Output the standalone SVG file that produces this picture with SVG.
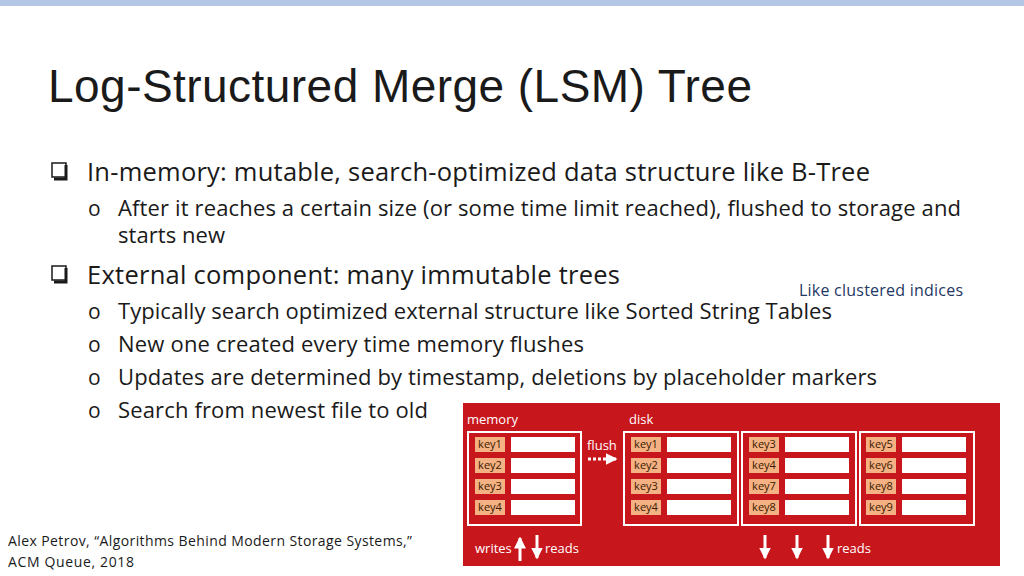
<svg xmlns="http://www.w3.org/2000/svg" width="1024" height="576" viewBox="0 0 1024 576">
<defs>
<style>
.t{font-family:"Liberation Sans",Arial,sans-serif;fill:#1a1a1a}
.b{font-family:"Open Sans","Noto Sans",sans-serif;fill:#1a1a1a}
.w{font-family:"Open Sans","Noto Sans",sans-serif;fill:#fff;font-size:13px}
.k{fill:#f4b183}
.kt{font-family:"Open Sans","Noto Sans",sans-serif;font-size:11px;fill:#3a1a00;text-anchor:middle}
.v{fill:#fff}
.box{fill:none;stroke:#fff;stroke-width:2}
.cb{fill:none;stroke:#1a1a1a;stroke-width:1.5}
</style>
<marker id="ah" markerWidth="4" markerHeight="4" refX="3.5" refY="2" orient="auto" markerUnits="strokeWidth"><path d="M0,0 L4,2 L0,4 z" fill="#fff"/></marker>
<g id="row">
<rect class="k" x="0" y="0" width="30" height="15"/>
<rect class="v" x="36" y="0" width="64" height="15"/>
</g>
</defs>
<rect width="1024" height="576" fill="#fff"/>
<rect width="1024" height="6" fill="#b4c7e7"/>
<text class="t" x="48" y="102" font-size="46" textLength="704">Log-Structured Merge (LSM) Tree</text>
<g id="bullets">
<rect class="cb" x="52" y="163" width="14" height="14"/><path d="M66,165 v14 h-12" stroke="#1a1a1a" stroke-width="3" fill="none"/>
<text class="b" x="87" y="181" font-size="25.5" textLength="783">In-memory: mutable, search-optimized data structure like B-Tree</text>
<text class="b" x="88" y="216" font-size="21">o</text>
<text class="b" x="118" y="216" font-size="22" textLength="843">After it reaches a certain size (or some time limit reached), flushed to storage and</text>
<text class="b" x="118" y="243" font-size="22" textLength="107">starts new</text>
<rect class="cb" x="52" y="266" width="14" height="14"/><path d="M66,268 v14 h-12" stroke="#1a1a1a" stroke-width="3" fill="none"/>
<text class="b" x="87" y="284" font-size="25.5" textLength="533">External component: many immutable trees</text>
<text class="b" x="88" y="319" font-size="21">o</text>
<text class="b" x="118" y="319" font-size="22" textLength="714">Typically search optimized external structure like Sorted String Tables</text>
<text class="b" x="88" y="352" font-size="21">o</text>
<text class="b" x="118" y="352" font-size="22" textLength="466">New one created every time memory flushes</text>
<text class="b" x="88" y="385" font-size="21">o</text>
<text class="b" x="118" y="385" font-size="22" textLength="759">Updates are determined by timestamp, deletions by placeholder markers</text>
<text class="b" x="88" y="418" font-size="21">o</text>
<text class="b" x="118" y="418" font-size="22" textLength="310">Search from newest file to old</text>
</g>
<text x="799" y="296" font-family="Open Sans,Noto Sans,sans-serif" font-size="16" fill="#1f3864" textLength="164">Like clustered indices</text>
<text class="b" x="8" y="546" font-size="14" textLength="404">Alex Petrov, “Algorithms Behind Modern Storage Systems,”</text>
<text class="b" x="8" y="567" font-size="14" textLength="126">ACM Queue, 2018</text>
<g id="lsm">
<rect x="463" y="403" width="537" height="163" fill="#c8161d"/>
<text class="w" x="467" y="424">memory</text>
<text class="w" x="629" y="424">disk</text>
<g id="mem">
<rect class="box" x="468" y="432" width="113" height="93"/>
<use href="#row" x="475" y="437"/><use href="#row" x="475" y="458"/><use href="#row" x="475" y="479"/><use href="#row" x="475" y="500"/>
<text class="kt" x="490" y="448">key1</text><text class="kt" x="490" y="469">key2</text><text class="kt" x="490" y="490">key3</text><text class="kt" x="490" y="511">key4</text>
</g>
<g id="d1">
<rect class="box" x="624" y="432" width="114" height="93"/>
<use href="#row" x="631" y="437"/><use href="#row" x="631" y="458"/><use href="#row" x="631" y="479"/><use href="#row" x="631" y="500"/>
<text class="kt" x="646" y="448">key1</text><text class="kt" x="646" y="469">key2</text><text class="kt" x="646" y="490">key3</text><text class="kt" x="646" y="511">key4</text>
</g>
<g id="d2">
<rect class="box" x="742" y="432" width="114" height="93"/>
<use href="#row" x="749" y="437"/><use href="#row" x="749" y="458"/><use href="#row" x="749" y="479"/><use href="#row" x="749" y="500"/>
<text class="kt" x="764" y="448">key3</text><text class="kt" x="764" y="469">key4</text><text class="kt" x="764" y="490">key7</text><text class="kt" x="764" y="511">key8</text>
</g>
<g id="d3">
<rect class="box" x="860" y="432" width="114" height="93"/>
<use href="#row" x="866" y="437"/><use href="#row" x="866" y="458"/><use href="#row" x="866" y="479"/><use href="#row" x="866" y="500"/>
<text class="kt" x="881" y="448">key5</text><text class="kt" x="881" y="469">key6</text><text class="kt" x="881" y="490">key8</text><text class="kt" x="881" y="511">key9</text>
</g>
<g id="connectors" stroke="#fff" stroke-width="3">
<line x1="588" y1="459" x2="616" y2="459" stroke-dasharray="3,2" marker-end="url(#ah)"/>
<line x1="520" y1="561" x2="520" y2="538" marker-end="url(#ah)"/>
<line x1="537" y1="535" x2="537" y2="558" marker-end="url(#ah)"/>
<line x1="765" y1="535" x2="765" y2="558" marker-end="url(#ah)"/>
<line x1="797" y1="535" x2="797" y2="558" marker-end="url(#ah)"/>
<line x1="828" y1="535" x2="828" y2="558" marker-end="url(#ah)"/>
</g>
<text class="w" x="587" y="450">flush</text>
<text class="w" x="475" y="553">writes</text>
<text class="w" x="545" y="553">reads</text>
<text class="w" x="837" y="553">reads</text>
</g>
</svg>
